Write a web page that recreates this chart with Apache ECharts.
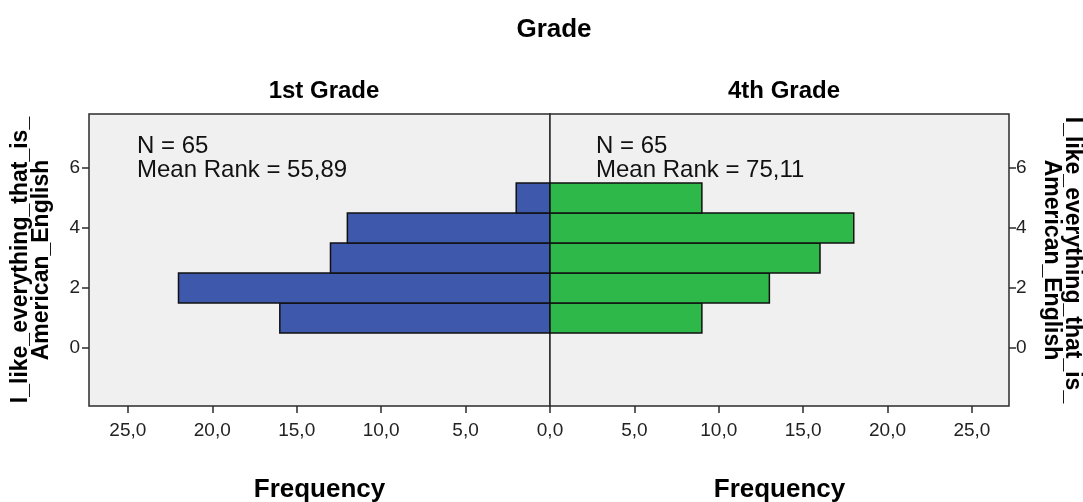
<!DOCTYPE html>
<html>
<head>
<meta charset="utf-8">
<script src="https://cdn.jsdelivr.net/npm/echarts@6/dist/echarts.min.js"></script>
<style>
  html, body { margin: 0; padding: 0; background: #fff; }
  #chart { width: 1083px; height: 502px; }
</style>
</head>
<body>
<div id="chart"></div>
<script>
// Response levels (rows of the population pyramid)
const levels = [1, 2, 3, 4, 5];
// Frequencies per level for each grade
const grade1Freq = [16, 22, 13, 12, 2];
const grade4Freq = [9, 13, 16, 18, 9];
// Panel headings and group statistics
const panelTitles = ['1st Grade', '4th Grade'];
const groupN = [65, 65];
const meanRank = [55.89, 75.11];
// Axis ticks
const freqTicks = [0, 5, 10, 15, 20, 25];
const levelTicks = [0, 2, 4, 6];

const FONT = '"Liberation Sans", Arial, sans-serif';
const comma = (v, d) => v.toFixed(d).replace('.', ',');

const chart = echarts.init(document.getElementById('chart'), null, { renderer: 'canvas' });

function barRenderer(color) {
  return function (params, api) {
    const f = api.value(0);
    const lv = api.value(1);
    const a = api.coord([0, lv + 0.5]);
    const b = api.coord([f, lv - 0.5]);
    return {
      type: 'rect',
      shape: {
        x: Math.min(a[0], b[0]),
        y: Math.min(a[1], b[1]),
        width: Math.abs(b[0] - a[0]),
        height: Math.abs(b[1] - a[1])
      },
      style: { fill: color, stroke: '#111', lineWidth: 1.5 }
    };
  };
}

const gridTop = 114, gridHeight = 292;
const yMin = -1.93, yMax = 7.8;

const tickLabelStyle = { fontFamily: FONT, fontSize: 19, color: '#222' };
const tickStyle = { color: '#2b2b2b', width: 1.5 };
const nameStyleY = {
  fontFamily: FONT, fontSize: 23, fontWeight: 'bold', color: '#000',
  lineHeight: 21, align: 'center'
};
const nameStyleX = { fontFamily: FONT, fontSize: 26, fontWeight: 'bold', color: '#000' };

const yName = 'I_like_everything_that_is_\nAmerican_English';

const option = {
  backgroundColor: '#fff',
  animation: false,
  title: [
    { text: 'Grade', left: 549, top: 12, textAlign: 'center',
      textStyle: { fontFamily: FONT, fontSize: 26, fontWeight: 'bold', color: '#000' } },
    { text: panelTitles[0], left: 319, top: 74, textAlign: 'center',
      textStyle: { fontFamily: FONT, fontSize: 24, fontWeight: 'bold', color: '#000' } },
    { text: panelTitles[1], left: 779, top: 74, textAlign: 'center',
      textStyle: { fontFamily: FONT, fontSize: 24, fontWeight: 'bold', color: '#000' } }
  ],
  grid: [
    { left: 89, top: gridTop, width: 461, height: gridHeight, show: true,
      outerBoundsMode: 'none', containLabel: false,
      backgroundColor: '#f0f0f0', borderColor: '#2b2b2b', borderWidth: 1.5 },
    { left: 550, top: gridTop, width: 459, height: gridHeight, show: true,
      outerBoundsMode: 'none', containLabel: false,
      backgroundColor: '#f0f0f0', borderColor: '#2b2b2b', borderWidth: 1.5 }
  ],
  xAxis: [
    {
      gridIndex: 0, type: 'value', inverse: true, min: 0, max: 27.3, position: 'bottom',
      axisLine: { show: false, onZero: false }, splitLine: { show: false },
      axisTick: { show: true, customValues: freqTicks, length: 7, lineStyle: tickStyle },
      axisLabel: { customValues: freqTicks, margin: 15, formatter: v => comma(v, 1), ...tickLabelStyle },
      name: 'Frequency', nameLocation: 'middle', nameGap: 71, nameTextStyle: nameStyleX
    },
    {
      gridIndex: 1, type: 'value', min: 0, max: 27.2, position: 'bottom',
      axisLine: { show: false, onZero: false }, splitLine: { show: false },
      axisTick: { show: true, customValues: freqTicks, length: 7, lineStyle: tickStyle },
      axisLabel: { customValues: freqTicks.slice(1), margin: 15, formatter: v => comma(v, 1), ...tickLabelStyle },
      name: 'Frequency', nameLocation: 'middle', nameGap: 71, nameTextStyle: nameStyleX
    }
  ],
  yAxis: [
    {
      gridIndex: 0, type: 'value', min: yMin, max: yMax, position: 'left',
      axisLine: { show: false, onZero: false }, splitLine: { show: false },
      axisTick: { show: true, customValues: levelTicks, length: 7, lineStyle: tickStyle },
      axisLabel: { customValues: levelTicks, margin: 9, ...tickLabelStyle },
      name: yName, nameLocation: 'middle', nameRotate: 90, nameGap: 37,
      nameTextStyle: nameStyleY
    },
    {
      gridIndex: 1, type: 'value', min: yMin, max: yMax, position: 'right',
      axisLine: { show: false, onZero: false }, splitLine: { show: false },
      axisTick: { show: true, customValues: levelTicks, length: 7, lineStyle: tickStyle },
      axisLabel: { customValues: levelTicks, margin: 7, ...tickLabelStyle },
      name: yName, nameLocation: 'middle', nameRotate: -90, nameGap: 32,
      nameTextStyle: nameStyleY
    }
  ],
  graphic: [
    { type: 'text', left: 137, top: 134, silent: true,
      style: { text: 'N = ' + groupN[0], font: '24px ' + FONT, fill: '#111' } },
    { type: 'text', left: 137, top: 158, silent: true,
      style: { text: 'Mean Rank = ' + comma(meanRank[0], 2), font: '24px ' + FONT, fill: '#111' } },
    { type: 'text', left: 596, top: 134, silent: true,
      style: { text: 'N = ' + groupN[1], font: '24px ' + FONT, fill: '#111' } },
    { type: 'text', left: 596, top: 158, silent: true,
      style: { text: 'Mean Rank = ' + comma(meanRank[1], 2), font: '24px ' + FONT, fill: '#111' } }
  ],
  series: [
    {
      name: panelTitles[0], type: 'custom', xAxisIndex: 0, yAxisIndex: 0,
      renderItem: barRenderer('#3e58ac'),
      encode: { x: 0, y: 1 },
      data: levels.map((lv, i) => [grade1Freq[i], lv])
    },
    {
      name: panelTitles[1], type: 'custom', xAxisIndex: 1, yAxisIndex: 1,
      renderItem: barRenderer('#2eb84a'),
      encode: { x: 0, y: 1 },
      data: levels.map((lv, i) => [grade4Freq[i], lv])
    }
  ]
};

chart.setOption(option);
</script>
</body>
</html>
